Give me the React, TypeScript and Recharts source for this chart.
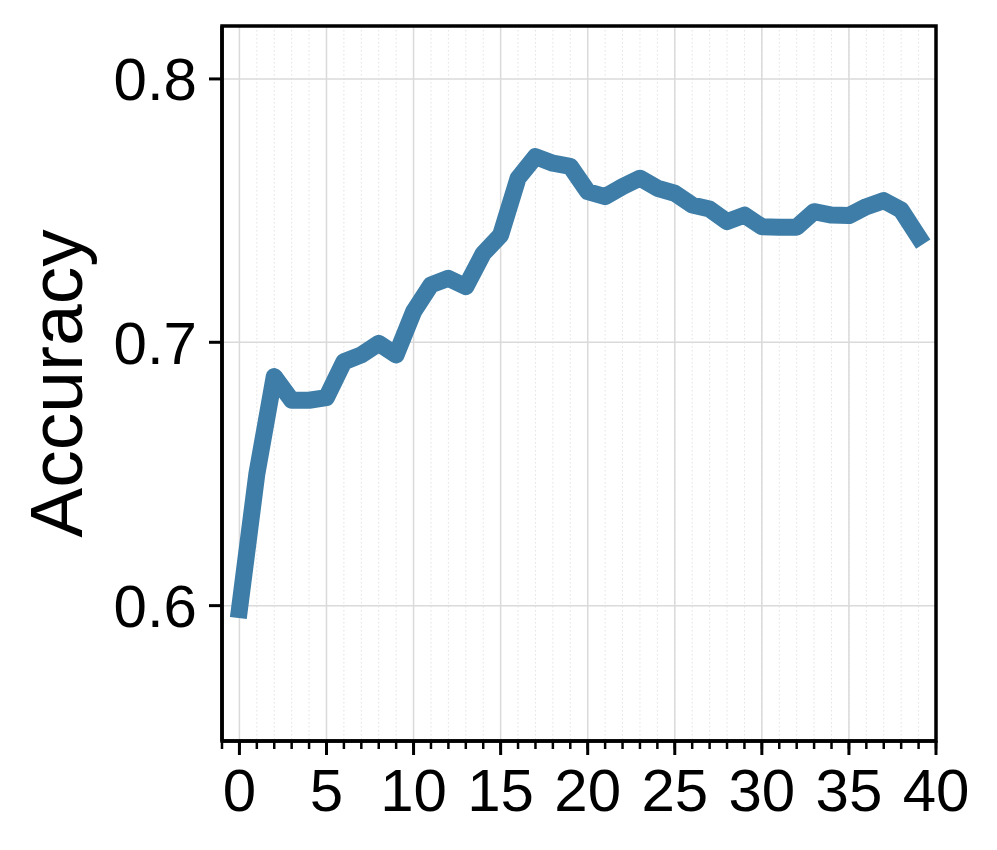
import React from 'react';
import { LineChart, Line, XAxis, YAxis, CartesianGrid, Label, ReferenceArea } from 'recharts';

const epochs = [
  0, 1, 2, 3, 4, 5, 6, 7, 8, 9,
  10, 11, 12, 13, 14, 15, 16, 17, 18, 19,
  20, 21, 22, 23, 24, 25, 26, 27, 28, 29,
  30, 31, 32, 33, 34, 35, 36, 37, 38, 39,
];
const accuracy = [
  0.5985, 0.650, 0.687, 0.678, 0.678, 0.679, 0.6926, 0.6952, 0.6996, 0.6952,
  0.7116, 0.7218, 0.7243, 0.7211, 0.7337, 0.7407, 0.7623, 0.7705, 0.768, 0.7668,
  0.7572, 0.7553, 0.7591, 0.7623, 0.7585, 0.7566, 0.7521, 0.7506, 0.7458, 0.7483,
  0.7439, 0.7437, 0.7437, 0.7496, 0.7483, 0.7481, 0.7515, 0.7538, 0.7502, 0.7400,
];
const xMajorTicks = [0, 5, 10, 15, 20, 25, 30, 35, 40];
const xMinorTicks = [-1, 0, 1, 2, 3, 4, 5, 6, 7, 8, 9, 10, 11, 12, 13, 14, 15, 16, 17, 18, 19, 20,
  21, 22, 23, 24, 25, 26, 27, 28, 29, 30, 31, 32, 33, 34, 35, 36, 37, 38, 39, 40];
const yTicks = [0.6, 0.7, 0.8];
const xDomain = [-1, 40];
const yDomain = [0.5486, 0.8201];
const yLabel = 'Accuracy';

const data = epochs.map((e, i) => ({ epoch: e, acc: accuracy[i] }));

const FONT = '"Liberation Sans", Arial, Helvetica, sans-serif';
const MINOR_TICK = 8;
const MAJOR_TICK = 14;
const TICK_MARGIN = 13;

const XTick = (props: any) => {
  const { x, y, payload } = props;
  const v = payload ? payload.value : 0;
  if (!xMajorTicks.includes(v)) return <g />;
  const axisY = y - MINOR_TICK - TICK_MARGIN;
  return (
    <g>
      <line x1={x} x2={x} y1={axisY} y2={axisY + MAJOR_TICK} stroke="#000" strokeWidth={3} />
      <text
        x={x}
        y={axisY + MAJOR_TICK + TICK_MARGIN}
        dy="0.71em"
        textAnchor="middle"
        fontSize={60}
        fontFamily={FONT}
        fill="#000"
      >
        {v}
      </text>
    </g>
  );
};

const YLabelContent = (props: any) => {
  const vb = props.viewBox || { x: 0, y: 0, width: 0, height: 0 };
  const x = vb.x + 81.5;
  const y = vb.y + vb.height / 2;
  return (
    <text
      x={x}
      y={y}
      transform={`rotate(-90, ${x}, ${y})`}
      textAnchor="middle"
      fontSize={75}
      fontFamily={FONT}
      fill="#000"
    >
      {yLabel}
    </text>
  );
};

export default function App() {
  return (
    <div style={{ position: 'absolute', left: 0, top: 0, width: 997, height: 850, background: '#fff' }}>
      <LineChart
        width={997}
        height={850}
        data={data}
        margin={{ top: 26, right: 61, bottom: 0, left: 0 }}
      >
        <XAxis
          xAxisId="major"
          dataKey="epoch"
          type="number"
          domain={xDomain}
          ticks={xMajorTicks}
          height={0}
          hide
          allowDataOverflow
        />
        <XAxis
          xAxisId="minor"
          dataKey="epoch"
          type="number"
          domain={xDomain}
          ticks={xMinorTicks}
          tick={<XTick />}
          tickSize={MINOR_TICK}
          tickMargin={TICK_MARGIN}
          height={109}
          interval={0}
          axisLine={{ stroke: '#000', strokeWidth: 3.5 }}
          tickLine={{ stroke: '#000', strokeWidth: 2.5 }}
          allowDataOverflow
        />
        <YAxis
          yAxisId="left"
          type="number"
          domain={yDomain}
          ticks={yTicks}
          width={222}
          tickSize={13}
          tickMargin={12}
          tickFormatter={(v: number) => v.toFixed(1)}
          axisLine={{ stroke: '#000', strokeWidth: 3.5 }}
          tickLine={{ stroke: '#000', strokeWidth: 3 }}
          tick={{ fill: '#000', fontSize: 60, fontFamily: FONT }}
          interval={0}
          allowDataOverflow
        >
          <Label content={YLabelContent} />
        </YAxis>
        <CartesianGrid
          xAxisId="minor"
          yAxisId="left"
          horizontal={false}
          stroke="#e2e2e2"
          strokeWidth={1}
          strokeDasharray="1.5 2.5"
        />
        <CartesianGrid
          xAxisId="major"
          yAxisId="left"
          stroke="#dadada"
          strokeWidth={1.5}
        />
        <ReferenceArea
          xAxisId="minor"
          yAxisId="left"
          x1={xDomain[0]}
          x2={xDomain[1]}
          y1={yDomain[0]}
          y2={yDomain[1]}
          fill="none"
          stroke="#000"
          strokeWidth={3.5}
          ifOverflow="visible"
        />
        <Line
          xAxisId="minor"
          yAxisId="left"
          dataKey="acc"
          type="linear"
          stroke="#3d7da7"
          strokeWidth={17}
          strokeLinejoin="round"
          strokeLinecap="square"
          dot={false}
          activeDot={false}
          isAnimationActive={false}
        />
      </LineChart>
    </div>
  );
}
